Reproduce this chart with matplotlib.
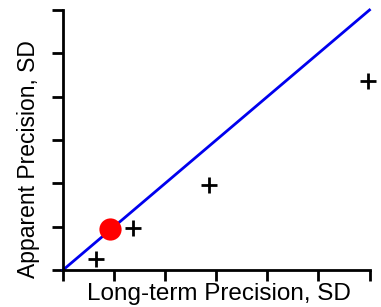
import matplotlib
matplotlib.use("Agg")
import matplotlib.pyplot as plt

plt.rcParams['font.family'] = ['Liberation Sans', 'DejaVu Sans']

long_term = [0.65, 1.37, 2.86, 5.97]
apparent = [0.25, 0.96, 1.96, 4.35]
highlight_x = [0.92]
highlight_y = [0.95]
identity = [0, 6]
ticks = [0, 1, 2, 3, 4, 5, 6]

W, H = 381, 307
fig = plt.figure(figsize=(W/100, H/100), dpi=100)
ax = fig.add_axes([63/W, 1-270/H, 306.5/W, 260/H])

ax.plot(identity, identity, color='#0000ee', lw=2, clip_on=False, zorder=2)
ax.plot(long_term, apparent, linestyle='none', marker='+', color='black',
        markersize=11, markeredgewidth=2, clip_on=False, zorder=3)
ax.plot(highlight_x, highlight_y, linestyle='none', marker='o', color='#ff0000',
        markersize=16, markeredgewidth=0, clip_on=False, zorder=4)

ax.set_xlim(0, 6)
ax.set_ylim(0, 6)
ax.set_xticks(ticks)
ax.set_yticks(ticks)
ax.set_xticklabels([])
ax.set_yticklabels([])
ax.tick_params(direction='out', length=8, width=2, color='black')
for s in ['top', 'right']:
    ax.spines[s].set_visible(False)
for s in ['left', 'bottom']:
    ax.spines[s].set_linewidth(2)
    ax.spines[s].set_color('black')

fig.text(219/W, 1-300/H, 'Long-term Precision, SD', fontsize=17.5,
         ha='center', va='baseline')
fig.text(35/W, 1-159/H, 'Apparent Precision, SD', fontsize=16.5,
         rotation=90, rotation_mode='anchor', ha='center', va='baseline')

fig.savefig('out.png', dpi=100)
